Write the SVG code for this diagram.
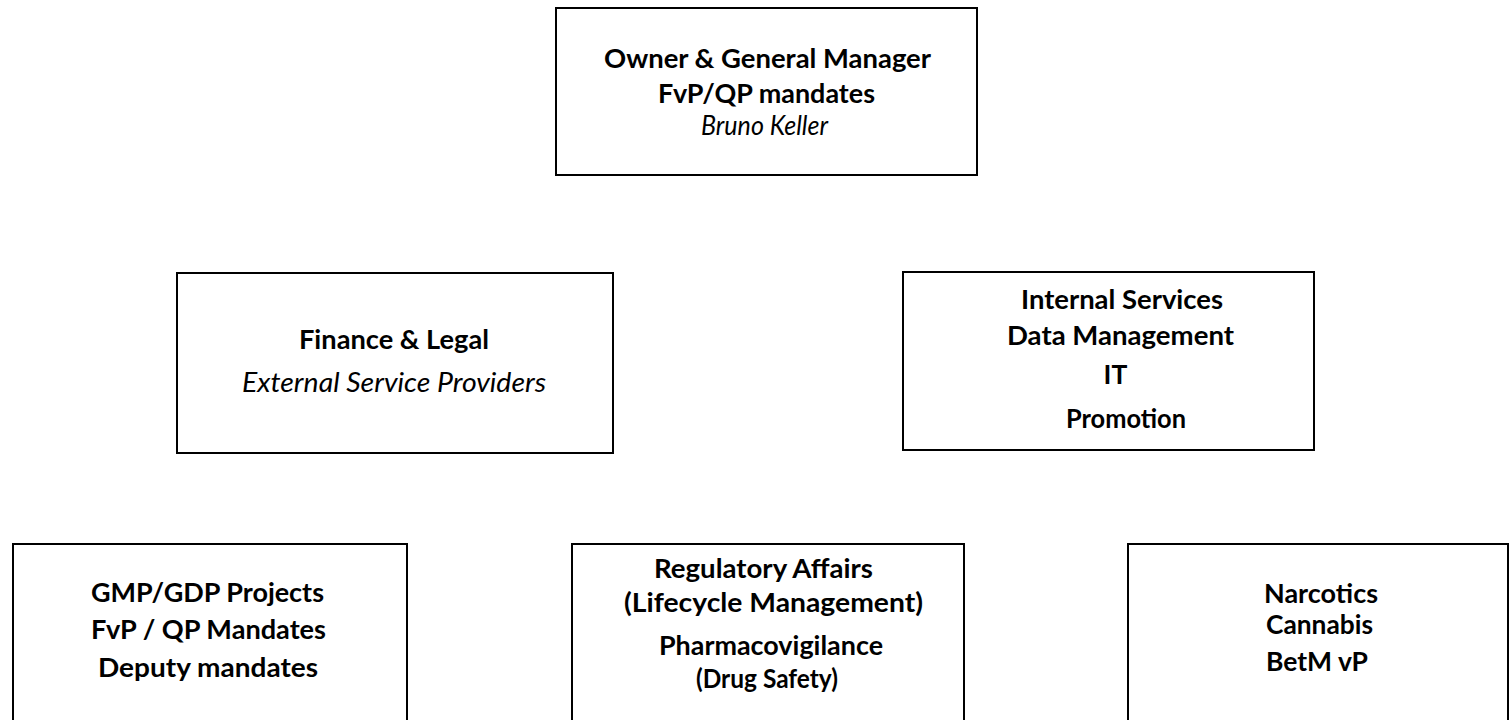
<svg xmlns="http://www.w3.org/2000/svg" width="1509" height="720" viewBox="0 0 1509 720">
<style>
.box{fill:#fff;stroke:#000;stroke-width:2}
text{font-family:Lato,"Open Sans","Liberation Sans",sans-serif;font-size:26.5px;fill:#000;text-anchor:middle}
.b{font-weight:bold}
.i{font-style:italic}
</style>
<rect width="1509" height="720" fill="#fff"/>
<g id="connectors"></g>
<g id="owner">
<rect class="box" x="556" y="8" width="421" height="167"/>
<text class="b" x="767.5" y="68" textLength="327" lengthAdjust="spacingAndGlyphs">Owner &amp; General Manager</text>
<text class="b" x="766.5" y="103" textLength="217" lengthAdjust="spacingAndGlyphs">FvP/QP mandates</text>
<text class="i" x="764.5" y="135" textLength="127" lengthAdjust="spacingAndGlyphs">Bruno Keller</text>
</g>
<g id="finance">
<rect class="box" x="177" y="273" width="436" height="180"/>
<text class="b" x="394" y="349" textLength="190" lengthAdjust="spacingAndGlyphs">Finance &amp; Legal</text>
<text class="i" x="394" y="392" textLength="304" lengthAdjust="spacingAndGlyphs">External Service Providers</text>
</g>
<g id="internal">
<rect class="box" x="903" y="272" width="411" height="178"/>
<text class="b" x="1122" y="309" textLength="202" lengthAdjust="spacingAndGlyphs">Internal Services</text>
<text class="b" x="1120.5" y="345" textLength="227" lengthAdjust="spacingAndGlyphs">Data Management</text>
<text class="b" x="1115.5" y="384">IT</text>
<text class="b" x="1126" y="428" textLength="120" lengthAdjust="spacingAndGlyphs">Promotion</text>
</g>
<g id="gmp">
<rect class="box" x="13" y="544" width="394" height="190"/>
<text class="b" x="207.5" y="602" textLength="233" lengthAdjust="spacingAndGlyphs">GMP/GDP Projects</text>
<text class="b" x="208.5" y="639" textLength="235" lengthAdjust="spacingAndGlyphs">FvP / QP Mandates</text>
<text class="b" x="208" y="677" textLength="220" lengthAdjust="spacingAndGlyphs">Deputy mandates</text>
</g>
<g id="regulatory">
<rect class="box" x="572" y="544" width="392" height="190"/>
<text class="b" x="763.5" y="578" textLength="219" lengthAdjust="spacingAndGlyphs">Regulatory Affairs</text>
<text class="b" x="773.5" y="612" textLength="299" lengthAdjust="spacingAndGlyphs">(Lifecycle Management)</text>
<text class="b" x="771" y="655" textLength="224" lengthAdjust="spacingAndGlyphs">Pharmacovigilance</text>
<text class="b" x="767" y="688" textLength="142" lengthAdjust="spacingAndGlyphs">(Drug Safety)</text>
</g>
<g id="narcotics">
<rect class="box" x="1128" y="544" width="380" height="190"/>
<text class="b" x="1321" y="603" textLength="114" lengthAdjust="spacingAndGlyphs">Narcotics</text>
<text class="b" x="1319.5" y="634" textLength="107" lengthAdjust="spacingAndGlyphs">Cannabis</text>
<text class="b" x="1317" y="671" textLength="102" lengthAdjust="spacingAndGlyphs">BetM vP</text>
</g>
</svg>
